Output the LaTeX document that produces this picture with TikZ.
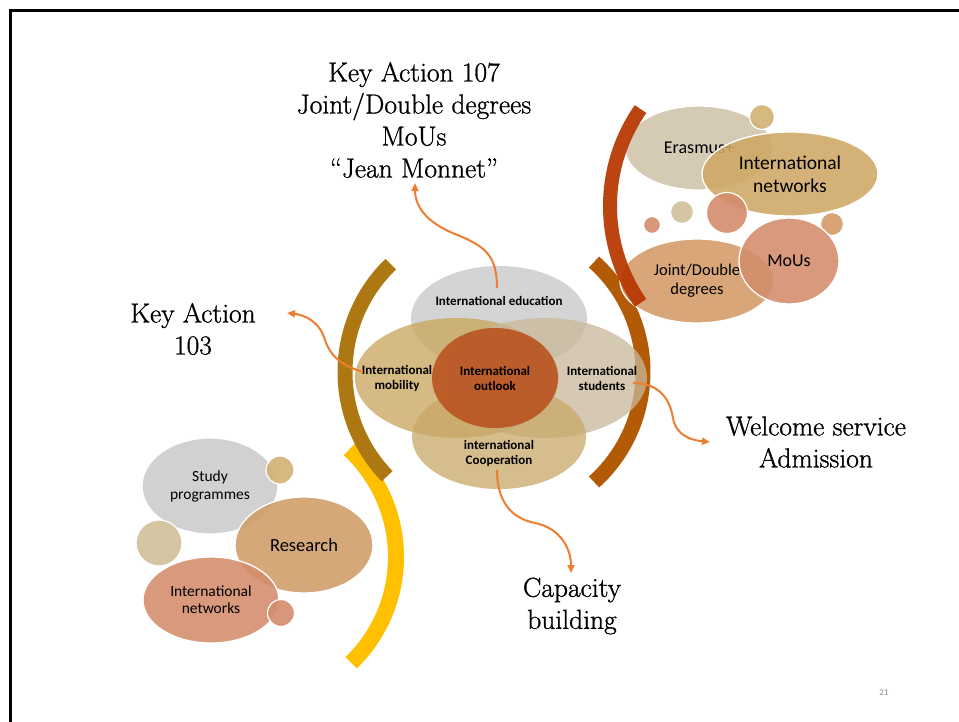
\documentclass[tikz,border=0pt]{standalone}
\usepackage{fontspec}
\newfontfamily\carlito{Carlito}
\newfontfamily\bigfont[Ligatures=TeX,FakeBold=1.0]{Latin Modern Roman}
\usetikzlibrary{shapes.geometric,arrows.meta}
\definecolor{goldarc}{HTML}{AD7812}
\definecolor{orarc}{HTML}{B35A06}
\definecolor{redarc}{HTML}{B83A04}
\definecolor{yelarc}{HTML}{FFC000}
\definecolor{arrowor}{HTML}{ED7D31}
\definecolor{cedu}{HTML}{C6C6C6}
\definecolor{cmob}{HTML}{C9A45A}
\definecolor{cstu}{HTML}{C8B89A}
\definecolor{ccoop}{HTML}{C8A868}
\definecolor{cout}{HTML}{BA5420}
\definecolor{cbeige}{HTML}{D0C3AA}
\definecolor{cgold}{HTML}{CFA865}
\definecolor{ctan}{HTML}{D49A68}
\definecolor{csalm}{HTML}{D48C6C}
\definecolor{cgray}{HTML}{CBCBCB}
\definecolor{cres}{HTML}{CF9C66}
\definecolor{csgold}{HTML}{D2B274}
\definecolor{csbeige}{HTML}{D2BF98}
\definecolor{pagenum}{HTML}{8C8C8C}
\begin{document}
\begin{tikzpicture}[x=1pt,y=-1pt,
  bub/.style={ellipse, draw=white, line width=1.3pt, inner sep=0pt,
    fill opacity=0.88, text opacity=1, align=center, font=\carlito},
  dot/.style={circle, draw=white, line width=1.2pt, inner sep=0pt,
    fill opacity=0.9, minimum size=#1},
  ven/.style={ellipse, draw=none, inner sep=0pt, fill opacity=0.75},
  vlbl/.style={align=center, inner sep=0pt, font=\carlito\bfseries\fontsize{13}{15}\selectfont},
  bigl/.style={align=center, inner sep=0pt, font=\bigfont\fontsize{27.5}{32}\selectfont},
  conn/.style={draw=arrowor, line width=2pt, -{Triangle[length=8pt,width=7pt]}}]
\useasboundingbox (0,0) rectangle (959,721);
\fill[white] (0,0) rectangle (959,721);
% frame
\draw[line width=3pt] (963,10.5) -- (10.5,10.5) -- (10.5,725);

% arcs
\draw[yelarc, line width=16pt] (249,557) ++(-47:147) arc[start angle=-47, end angle=46, radius=147];
\draw[goldarc, line width=15pt] (495,372) ++(136:150) arc[start angle=136, end angle=226, radius=150];
\draw[orarc, line width=15pt] (495,372) ++(-48:148) arc[start angle=-48, end angle=48, radius=148];

% Venn
\node[ven, fill=cedu, minimum width=176pt, minimum height=104pt] (edu) at (499,318) {};
\node[ven, fill=cmob, minimum width=204pt, minimum height=120pt] (mob) at (457,378) {};
\node[ven, fill=cstu, minimum width=204pt, minimum height=120pt] (stu) at (545,378) {};
\node[ven, fill=ccoop, minimum width=174pt, minimum height=104pt] (coop) at (499,437) {};
\node[ven, fill=cout, fill opacity=0.9, minimum width=126pt, minimum height=100pt] (out) at (495,378) {};

\node[vlbl] (eduT) at (499,301) {International education};
\node[vlbl] (mobT) at (397,378) {International\\mobility};
\node[vlbl] (outT) at (495,378) {International\\outlook};
\node[vlbl] (stuT) at (602,378) {International\\students};
\node[vlbl] (coopT) at (499,453) {international\\Cooperation};

% right cluster
\node[bub, fill=cbeige, minimum width=148pt, minimum height=84pt, font=\carlito\fontsize{18}{22}\selectfont] (eras) at (699,148) {Erasmus+};
\node[dot=25pt, fill=csgold] (d1) at (762,117) {};
\node[bub, fill=cgold, minimum width=176pt, minimum height=84pt, font=\carlito\fontsize{19.5}{23}\selectfont] (netR) at (790,174) {International\\networks};
\node[dot=17pt, fill=csalm] (d2) at (652,225) {};
\node[dot=23pt, fill=csbeige] (d3) at (682,212) {};
\node[dot=41pt, fill=csalm] (d4) at (727,213) {};
\node[dot=23pt, fill=ctan] (d5) at (832,224) {};
\node[bub, fill=ctan, minimum width=154pt, minimum height=84pt, font=\carlito\fontsize{16.5}{19}\selectfont] (joint) at (697,281) {Joint/Double\\degrees};
\node[bub, fill=csalm, minimum width=100pt, minimum height=86pt, font=\carlito\fontsize{18}{22}\selectfont] (mous) at (789,261) {MoUs};
\draw[redarc, line width=14pt, opacity=0.95] (779,206) ++(145:169) arc[start angle=145, end angle=215, radius=169];

% left cluster
\node[bub, fill=cgray, minimum width=136pt, minimum height=96pt, font=\carlito\fontsize{15.5}{18}\selectfont] (study) at (210,486) {Study\\programmes};
\node[dot=28pt, fill=csgold] (d6) at (280,470) {};
\node[bub, fill=cres, minimum width=138pt, minimum height=96pt, font=\carlito\fontsize{18.5}{22}\selectfont] (res) at (304,545) {Research};
\node[dot=46pt, fill=csbeige] (d7) at (159,543) {};
\node[bub, fill=csalm, minimum width=136pt, minimum height=86pt, font=\carlito\fontsize{15.5}{17}\selectfont] (netL) at (211,600) {International\\networks};
\node[dot=27pt, fill=csalm] (d8) at (281,613) {};

% labels
\node[bigl] (ka107) at (414,120) {Key Action 107\\Joint/Double degrees\\MoUs\\“Jean Monnet”};
\node[bigl] (ka103) at (193,329) {Key Action\\103};
\node[bigl] (welc) at (816,442) {Welcome service\\Admission};
\node[bigl] (cap) at (572,606) {Capacity\\building};
\node[font=\carlito\fontsize{9}{11}\selectfont, text=pagenum] (pg) at (884,693) {21};

% connectors
\coordinate (s1) at (497,288); \coordinate (e1) at (415,183);
\coordinate (s2) at (363,372); \coordinate (e2) at (287,313);
\coordinate (s3) at (633,383); \coordinate (e3) at (710,442);
\coordinate (s4) at (497,470); \coordinate (e4) at (571,573);
\draw[conn] (s1) .. controls (497,255) and (485,246) .. (455,234) .. controls (425,222) and (415,205) .. (e1);
\draw[conn] (s2) .. controls (340,365) and (330,355) .. (325,340) .. controls (320,322) and (305,315) .. (e2);
\draw[conn] (s3) .. controls (660,383) and (670,400) .. (673,418) .. controls (676,435) and (690,440) .. (e3);
\draw[conn] (s4) .. controls (497,500) and (510,518) .. (535,523) .. controls (560,528) and (571,548) .. (e4);
\end{tikzpicture}
\end{document}
